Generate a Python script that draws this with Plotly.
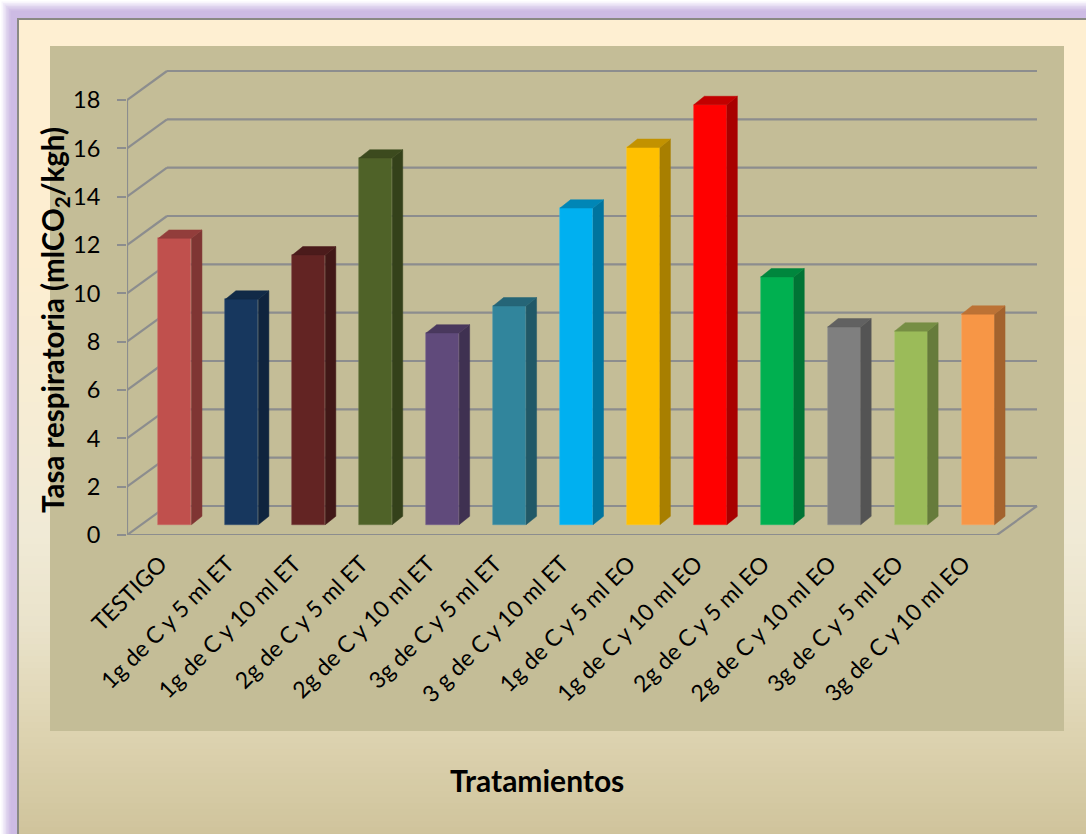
import plotly.graph_objects as go

W, H = 1086, 834
categories = ["TESTIGO", "1g de C y 5 ml ET", "1g de C y 10 ml ET", "2g de C y 5 ml ET",
              "2g de C y 10 ml ET", "3g de C y 5 ml ET", "3 g de C y 10 ml ET", "1g de C y 5 ml EO",
              "1g de C y 10 ml EO", "2g de C y 5 ml EO", "2g de C y 10 ml EO", "3g de C y 5 ml EO",
              "3g de C y 10 ml EO"]
values = [11.85, 9.33, 11.16, 15.17, 7.93, 9.05, 13.1, 15.61, 17.38, 10.25, 8.18, 8.01, 8.71]
colors = ["#C0504D", "#17375E", "#632423", "#4F6228", "#604A7B", "#31859C", "#00B0F0",
          "#FFC000", "#FF0000", "#00B050", "#7F7F7F", "#9BBB59", "#F79646"]
y_ticks = list(range(0, 20, 2))

# plot-area geometry (pixels)
L, R, T, B = 127, 1045, 60, 535
UX, UY = 870 / 13, 435 / 18          # pixels per category / per value unit
WALL_DX, WALL_DY = 40 / UX, 29 / UY  # depth of the floor, in data units
BAR_X, BAR_BASE = 14.5 / UX, 10.3 / UY
BAR_W, SIDE_DX, SIDE_DY = 33 / UX, 10.5 / UX, 8.4 / UY
GRID = "#8C8D8E"


def shade(hex_color, k):
    return "#%02X%02X%02X" % tuple(round(int(hex_color[i:i + 2], 16) * k) for i in (1, 3, 5))


def mix(a, b, t):
    return "#%02X%02X%02X" % tuple(
        round(int(a[i:i + 2], 16) * (1 - t) + int(b[i:i + 2], 16) * t) for i in (1, 3, 5))


def px_rect(x0, y0, x1, y1, color, **kw):
    return dict(type="rect", xref="paper", yref="paper", layer="below", line_width=0, fillcolor=color,
                x0=(x0 - L) / (R - L), x1=(x1 - L) / (R - L),
                y0=(B - y0) / (B - T), y1=(B - y1) / (B - T), **kw)


shapes = []
# glow around the frame (left and top)
glow = ["#FFFFFF", "#F8F5FC", "#F0EBF8", "#E7DFF3", "#DFD4EE", "#D8CAEA", "#D2C2E7", "#CDBBE4"]
shapes.append(px_rect(0, 0, W, H, "#CDBBE4"))
for i, c in enumerate(glow):
    shapes.append(px_rect(i * 1.5, i * 1.5, W, H, c))
shapes.append(px_rect(12, 12, W, H, "#CDBBE4"))
shapes.append(px_rect(17, 18, W, H, "#8A8A84"))

# frame fill, vertical gradient in bands
stops = [(20, "#FEEFD2"), (250, "#FDEED1"), (372, "#F8EDD3"), (532, "#F0EAD6"), (620, "#EAE3CB"),
         (731, "#DDD3B0"), (834, "#CFC39B")]
for (y0, c0), (y1, c1) in zip(stops, stops[1:]):
    step = 6
    y = y0
    while y < y1:
        shapes.append(px_rect(19, y, W, min(y + step, y1) + 1, mix(c0, c1, (y - y0) / (y1 - y0))))
        y += step
# plot rectangle
shapes.append(px_rect(50, 46, 1064, 731, "#C4BD97"))

# walls: back gridlines, and diagonals on the left side wall
x_left, x_right = -0.5, 12.5
for v in y_ticks:
    line = dict(type="line", xref="x", yref="y", layer="below", line=dict(color=GRID, width=2.2))
    shapes.append(dict(line, x0=x_left + WALL_DX, x1=x_right + WALL_DX, y0=v + WALL_DY, y1=v + WALL_DY))
    shapes.append(dict(line, x0=x_left, x1=x_left + WALL_DX, y0=v, y1=v + WALL_DY))
shapes.append(dict(type="line", xref="x", yref="y", layer="below", line=dict(color=GRID, width=2.2),
                   x0=x_right, x1=x_right + WALL_DX, y0=0, y1=WALL_DY))

fig = go.Figure()
bar_x = [i + BAR_X for i in range(len(values))]

# front faces
fig.add_trace(go.Bar(x=bar_x, y=values, base=BAR_BASE, width=BAR_W, showlegend=False,
                     marker=dict(color=colors,
                                 line=dict(color=[mix(c, "#FFFFFF", 0.15) for c in colors], width=0.6))))

# right side and top faces
for x, v, c in zip(bar_x, values, colors):
    xr = x + BAR_W / 2
    xl = x - BAR_W / 2
    top = BAR_BASE + v
    fig.add_trace(go.Scatter(x=[xr, xr + SIDE_DX, xr + SIDE_DX, xr, xr],
                             y=[BAR_BASE, BAR_BASE + SIDE_DY, top + SIDE_DY, top, BAR_BASE],
                             mode="lines", fill="toself", fillcolor=shade(c, 0.66),
                             line=dict(color=shade(c, 0.66), width=0.5), showlegend=False, hoverinfo="skip"))
    fig.add_trace(go.Scatter(x=[xl, xl + SIDE_DX, xr + SIDE_DX, xr, xl],
                             y=[top, top + SIDE_DY, top + SIDE_DY, top, top],
                             mode="lines", fill="toself", fillcolor=shade(c, 0.76),
                             line=dict(color=shade(c, 0.76), width=0.5), showlegend=False, hoverinfo="skip"))

# front axis lines
fig.add_trace(go.Scatter(x=[x_left, x_left, x_right], y=[y_ticks[-1], 0, 0], mode="lines",
                         line=dict(color=GRID, width=2.2), cliponaxis=False,
                         showlegend=False, hoverinfo="skip"))

fig.update_layout(
    width=W, height=H,
    margin=dict(l=L, r=W - R, t=T, b=H - B, pad=0),
    paper_bgcolor="#FEEFD2",
    plot_bgcolor="rgba(0,0,0,0)",
    font=dict(family="Lato", color="#000000"),
    shapes=shapes,
    bargap=0,
    xaxis=dict(range=[x_left, x_left + (R - L) / UX], tickmode="array", tickvals=list(range(len(categories))),
               ticktext=categories, tickangle=-45, showgrid=False, zeroline=False, showline=False,
               ticks="", ticklabelstandoff=10, tickfont=dict(size=23, family="Lato", color="#000000")),
    yaxis=dict(range=[0, (B - T) / UY], tickmode="array", tickvals=y_ticks, ticktext=[str(v) for v in y_ticks],
               showgrid=False, zeroline=False, showline=False, ticks="outside", ticklen=9, tickwidth=2,
               tickcolor=GRID, ticklabelstandoff=12, tickfont=dict(size=23.5, family="Lato", color="#000000")),
    annotations=[
        dict(text="<b>Tasa respiratoria (mlCO<sub>2</sub>/kgh)</b>", textangle=-90, showarrow=False,
             xref="paper", yref="paper", x=(55 - L) / (R - L), y=(B - 320) / (B - T),
             xanchor="center", yanchor="middle", font=dict(size=29.5, family="Lato", color="#000000")),
        dict(text="<b>Tratamientos</b>", showarrow=False, xref="paper", yref="paper",
             x=(537 - L) / (R - L), y=(B - 780) / (B - T), xanchor="center", yanchor="middle",
             font=dict(size=30, family="Lato", color="#000000")),
    ],
)
fig.write_html("out.html", config={"displayModeBar": False}, post_script="document.body.style.margin='0';")
